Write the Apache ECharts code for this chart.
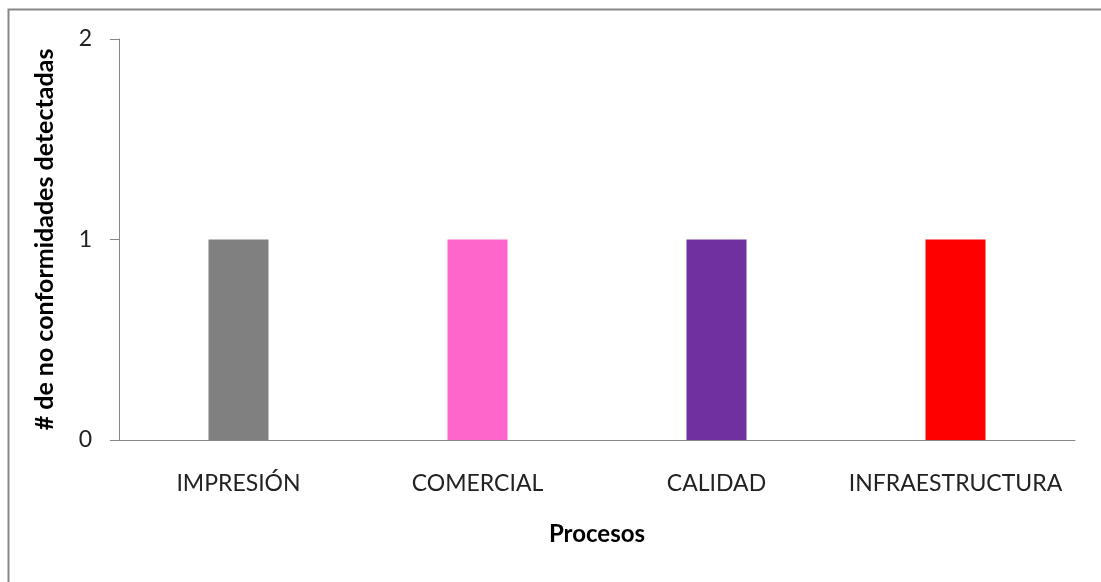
<!DOCTYPE html>
<html><head><meta charset="utf-8">
<script src="https://cdn.jsdelivr.net/npm/echarts@6/dist/echarts.min.js"></script>
<style>html,body{margin:0;padding:0;background:#fff}#c{width:1101px;height:582px}</style>
</head><body><div id="c"></div>
<script>
const categories = ['IMPRESIÓN', 'COMERCIAL', 'CALIDAD', 'INFRAESTRUCTURA'];
const values = [1, 1, 1, 1];
const colors = ['#808080', '#ff66cc', '#7030a0', '#ff0000'];
const yTicks = [0, 1, 2];
const font = 'Lato, "Open Sans", sans-serif';
const chart = echarts.init(document.getElementById('c'));
chart.setOption({
  animation: false,
  backgroundColor: '#fff',
  graphic: [{type: 'rect', shape: {x: 8.5, y: 9.5, width: 1200, height: 700}, style: {fill: 'none', stroke: '#888', lineWidth: 2}, silent: true}],
  grid: {left: 119, right: 26, top: 39, bottom: 142},
  xAxis: {
    type: 'category', data: categories,
    name: 'Procesos', nameLocation: 'middle', nameGap: 82,
    nameTextStyle: {fontFamily: font, fontSize: 24, fontWeight: 'bold', color: '#000'},
    axisLine: {lineStyle: {color: '#888', width: 1}},
    axisTick: {show: false},
    axisLabel: {fontFamily: font, fontSize: 23, color: '#222', margin: 32, interval: 0, hideOverlap: false}
  },
  yAxis: {
    type: 'value', min: yTicks[0], max: yTicks[yTicks.length - 1], interval: 1,
    name: '# de no conformidades detectadas', nameLocation: 'middle', nameGap: 62, nameRotate: 90,
    nameTextStyle: {fontFamily: font, fontSize: 25, fontWeight: 'bold', color: '#000'},
    axisLine: {show: true, lineStyle: {color: '#888', width: 1}},
    axisTick: {show: true, length: 9, lineStyle: {color: '#888'}},
    splitLine: {show: false},
    axisLabel: {fontFamily: font, fontSize: 23, color: '#222', margin: 27}
  },
  series: [{
    type: 'bar', barWidth: 60,
    data: values.map((v, i) => ({value: v, itemStyle: {color: colors[i]}}))
  }]
});
</script></body></html>
